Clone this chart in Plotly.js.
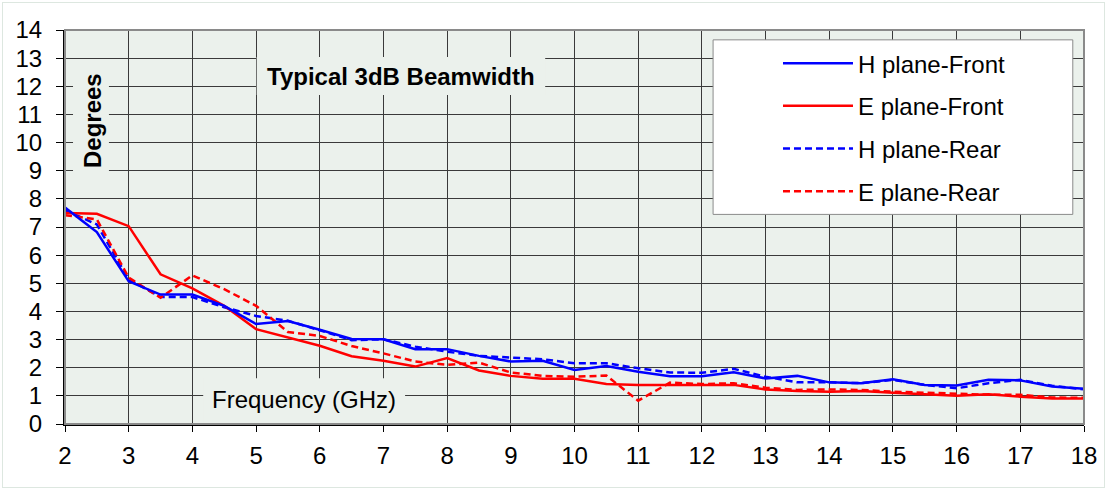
<!DOCTYPE html>
<html>
<head>
<meta charset="utf-8">
<script src="https://cdn.plot.ly/plotly-3.0.1.min.js"></script>
<style>
html,body{margin:0;padding:0;background:#fff;}
#chart{width:1107px;height:490px;outline:1px solid #dde7e0;outline-offset:-3px;}
</style>
</head>
<body>
<div id="chart"></div>
<script>
const freq = [2,2.5,3,3.5,4,4.5,5,5.5,6,6.5,7,7.5,8,8.5,9,9.5,10,10.5,11,11.5,12,12.5,13,13.5,14,14.5,15,15.5,16,16.5,17,17.5,18];
const hFront = [7.69,6.82,5.07,4.6,4.6,4.2,3.55,3.66,3.35,3.02,3.01,2.66,2.66,2.42,2.22,2.25,1.92,2.06,1.86,1.7,1.7,1.84,1.62,1.71,1.48,1.45,1.59,1.39,1.37,1.57,1.55,1.33,1.25];
const eFront = [7.5,7.47,7.03,5.32,4.82,4.2,3.37,3.08,2.78,2.41,2.25,2.04,2.34,1.9,1.71,1.61,1.61,1.42,1.39,1.39,1.39,1.39,1.23,1.17,1.15,1.17,1.11,1.06,1.0,1.06,0.97,0.91,0.91];
const hRear = [7.6,7.09,5.14,4.51,4.51,4.15,3.84,3.67,3.33,2.98,3.01,2.75,2.57,2.42,2.36,2.3,2.16,2.16,1.98,1.83,1.82,1.96,1.68,1.48,1.48,1.45,1.57,1.39,1.27,1.45,1.57,1.36,1.23];
const eRear = [7.42,7.27,5.2,4.49,5.28,4.79,4.2,3.27,3.13,2.77,2.51,2.22,2.1,2.18,1.83,1.71,1.68,1.72,0.83,1.47,1.42,1.45,1.29,1.21,1.23,1.21,1.15,1.11,1.07,1.04,1.04,0.94,0.93];
const seriesNames = ["H plane-Front","E plane-Front","H plane-Rear","E plane-Rear"];
const titleText = "Typical 3dB Beamwidth";
const yTitleText = "Degrees";
const xTitleText = "Frequency (GHz)";

const blue = "#0000ff", red = "#ff0000";
const dashStyle = "7px,4px";
const traces = [
  {x: freq, y: hRear, name: seriesNames[2], line:{color:blue, width:2.5, dash:dashStyle}, legendrank:3, legendgroup:"c"},
  {x: freq, y: eRear, name: seriesNames[3], line:{color:red, width:2.5, dash:dashStyle}, legendrank:4, legendgroup:"d"},
  {x: freq, y: eFront, name: seriesNames[1], line:{color:red, width:2.5}, legendrank:2, legendgroup:"b"},
  {x: freq, y: hFront, name: seriesNames[0], line:{color:blue, width:2.5}, legendrank:1, legendgroup:"a"}
].map(t => Object.assign({type:"scatter", mode:"lines"}, t));

const plotBg = "#ebf1ec";
const fam = "Liberation Sans, Arial, sans-serif";
const tickFont = {family:fam, size:24, color:"#000"};
const layout = {
  width:1107, height:490,
  margin:{l:65, r:23, t:30, b:66},
  paper_bgcolor:"rgba(0,0,0,0)",
  plot_bgcolor:plotBg,
  font: {family:fam, size:24, color:"#000"},
  showlegend:true,
  legend:{x:0.6997, y:0.972, xanchor:"left", yanchor:"top", bgcolor:"rgba(0,0,0,0)",
          borderwidth:0, font:{family:fam, size:24, color:"#000"},
          tracegroupgap:8.5, itemwidth:70, traceorder:"grouped"},
  xaxis:{range:[2,18], dtick:1, tick0:2, showgrid:true, gridcolor:"#3a3a3a", gridwidth:1,
         ticks:"outside", ticklen:6, tickcolor:"#000", showline:true, linecolor:"#000", linewidth:2,
         ticklabelstandoff:3, zeroline:false, tickfont:tickFont, fixedrange:true},
  yaxis:{range:[0,14], dtick:1, tick0:0, showgrid:true, gridcolor:"#3a3a3a", gridwidth:1,
         ticks:"outside", ticklen:7, tickcolor:"#000", showline:true, linecolor:"#000", linewidth:2,
         ticklabelstandoff:9, zeroline:false, tickfont:tickFont, fixedrange:true},
  shapes:[
    {type:"rect", xref:"paper", yref:"paper", x0:0, x1:1, y0:0, y1:1, line:{color:"#8a8a8a", width:2}, layer:"above", fillcolor:"rgba(0,0,0,0)"},
    {type:"rect", xref:"x", yref:"y", x0:5.01, x1:9.54, y0:11.69, y1:13.04, fillcolor:plotBg, line:{width:0}, layer:"between"},
    {type:"rect", xref:"x", yref:"y", x0:2.126, x1:2.69, y0:8.49, y1:12.86, fillcolor:plotBg, line:{width:0}, layer:"between"},
    {type:"rect", xref:"x", yref:"y", x0:4.17, x1:7.34, y0:0.02, y1:1.63, fillcolor:plotBg, line:{width:0}, layer:"between"},
    {type:"rect", xref:"paper", yref:"paper", x0:0.636, x1:0.989, y0:0.532, y1:0.975, fillcolor:"#ffffff", line:{color:"#8a8a8a", width:1}, layer:"above"}
  ],
  annotations:[
    {text:"<b>"+titleText+"</b>", xref:"paper", yref:"paper", x:0.3298, y:0.883, xanchor:"center", yanchor:"middle", showarrow:false,
     font:{family:fam, size:24, color:"#000"}},
    {text:"<b>"+yTitleText+"</b>", xref:"paper", yref:"paper", x:0.0265, y:0.769, xanchor:"center", yanchor:"middle", showarrow:false, textangle:-90,
     font:{family:fam, size:24, color:"#000"}},
    {text:xTitleText, xref:"paper", yref:"paper", x:0.2345, y:0.061, xanchor:"center", yanchor:"middle", showarrow:false,
     font:{family:fam, size:24, color:"#000"}}
  ]
};
Plotly.newPlot("chart", traces, layout, {displayModeBar:false, staticPlot:true});
</script>
</body>
</html>
